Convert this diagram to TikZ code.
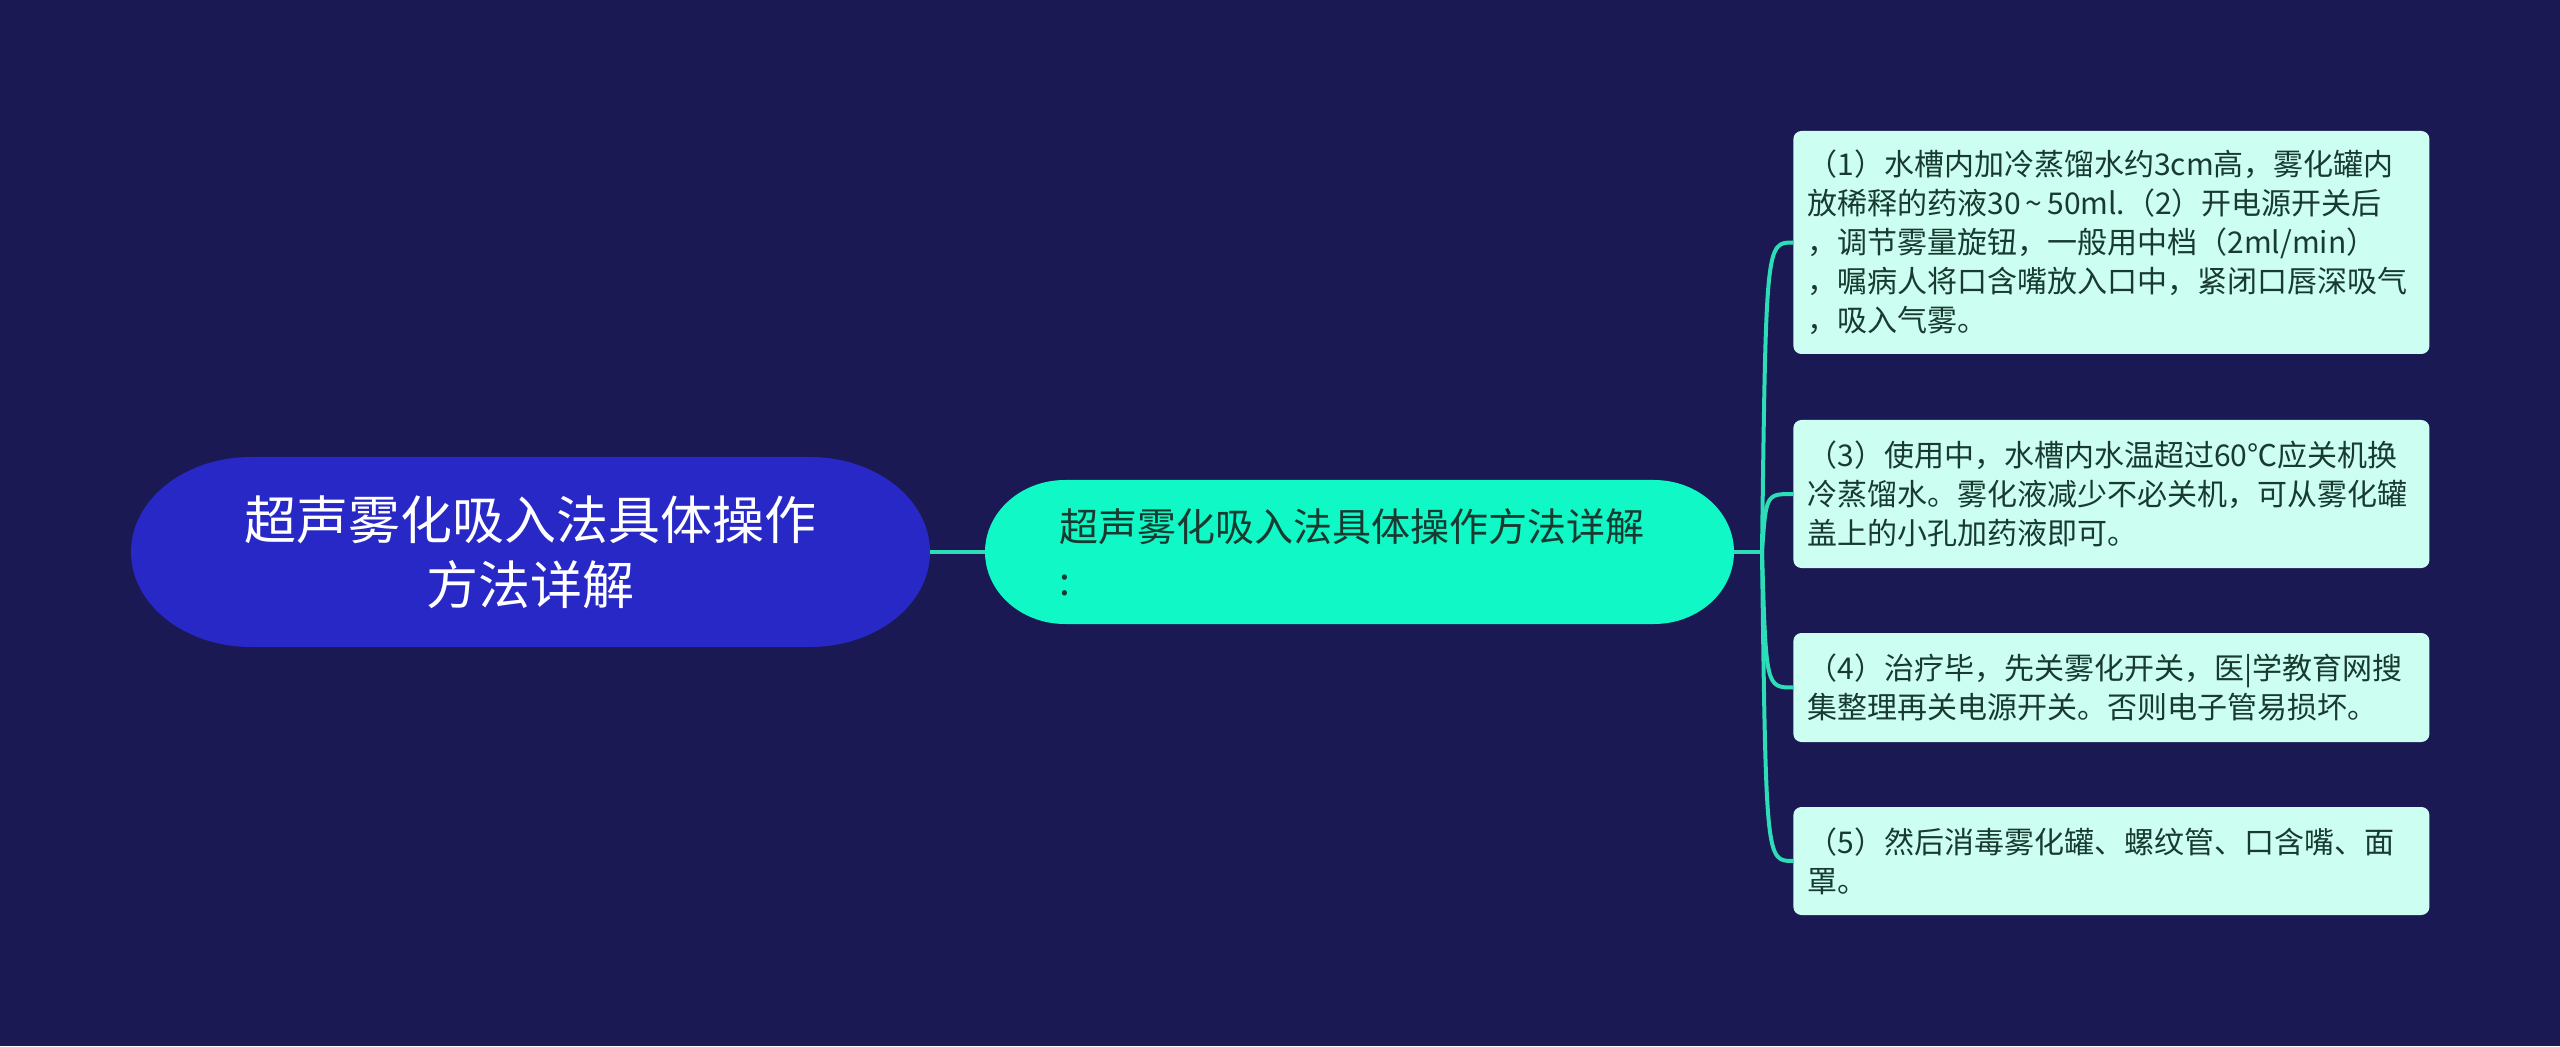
\documentclass[tikz,border=0pt]{standalone}
\usepackage{fontspec}
\newfontfamily\cjk{Noto Sans CJK SC}
\definecolor{bgnavy}{HTML}{1A1953}
\definecolor{rootblue}{HTML}{2828C6}
\definecolor{midmint}{HTML}{0FF8C5}
\definecolor{leafmint}{HTML}{CCFFF1}
\definecolor{linkteal}{HTML}{2CDDB7}
\definecolor{darktext}{HTML}{183A31}

\begin{document}
\begin{tikzpicture}[x=0.5pt,y=0.5pt]
	\tikzset{roottext/.style={text=white, align=center, font=\cjk\fontsize{26pt}{32.5pt}\selectfont, minimum width=399.5pt, minimum height=95pt, inner sep=0pt}};
	\tikzset{midtext/.style={text=darktext, align=left, text width=300pt, font=\cjk\fontsize{19.5pt}{27pt}\selectfont, minimum width=374.5pt, minimum height=72pt, inner sep=0pt}};
	\tikzset{leaf/.style={fill=leafmint, rounded corners=4pt, text=darktext, anchor=west, align=left, text width=304pt, inner xsep=7pt, inner ysep=0pt, font=\cjk\fontsize{15pt}{19.5pt}\selectfont}};
	\tikzset{link/.style={draw=linkteal, line width=2pt}};

	\useasboundingbox (0,0) rectangle (2560,1046);
	\fill[bgnavy] (0,0) rectangle (2560,1046);

	% pill shapes with elliptic ends
	\fill[rootblue] (251,589) -- (810,589) arc[start angle=90, end angle=-90, x radius=120, y radius=95] -- (251,399) arc[start angle=270, end angle=90, x radius=120, y radius=95] -- cycle;
	\fill[midmint] (1065,566) -- (1654,566) arc[start angle=90, end angle=-90, x radius=80, y radius=72] -- (1065,422) arc[start angle=270, end angle=90, x radius=80, y radius=72] -- cycle;

	\node[roottext] (root) at (530.5,494) {超声雾化吸入法具体操作\\方法详解};
	\node[midtext] (mid) at (1359.5,494) {超声雾化吸入法具体操作方法详解\\:};

	\node[leaf, minimum height=111.5pt] (s1) at (1793,803.5) {（1）水槽内加冷蒸馏水约3cm高，雾化罐内\\放稀释的药液30\,\textasciitilde\,50ml.（2）开电源开关后\\，调节雾量旋钮，一般用中档（2ml/min）\\，嘱病人将口含嘴放入口中，紧闭口唇深吸气\\，吸入气雾。};
	\node[leaf, minimum height=74pt] (s2) at (1793,552) {（3）使用中，水槽内水温超过60℃应关机换\\冷蒸馏水。雾化液减少不必关机，可从雾化罐\\盖上的小孔加药液即可。};
	\node[leaf, minimum height=54.5pt] (s3) at (1793,358.5) {（4）治疗毕，先关雾化开关，医|学教育网搜\\集整理再关电源开关。否则电子管易损坏。};
	\node[leaf, minimum height=54pt] (s4) at (1793,185) {（5）然后消毒雾化罐、螺纹管、口含嘴、面\\罩。};

	\coordinate (fork) at (1762,494);
	\draw[link] (root) -- (mid);
	\draw[link] (mid) -- (fork);
	\draw[link] (fork) .. controls ([xshift=2pt]fork |- s1.west) .. (s1.west);
	\draw[link] (fork) .. controls ([xshift=2pt]fork |- s2.west) .. (s2.west);
	\draw[link] (fork) .. controls ([xshift=2pt]fork |- s3.west) .. (s3.west);
	\draw[link] (fork) .. controls ([xshift=2pt]fork |- s4.west) .. (s4.west);
\end{tikzpicture}
\end{document}
